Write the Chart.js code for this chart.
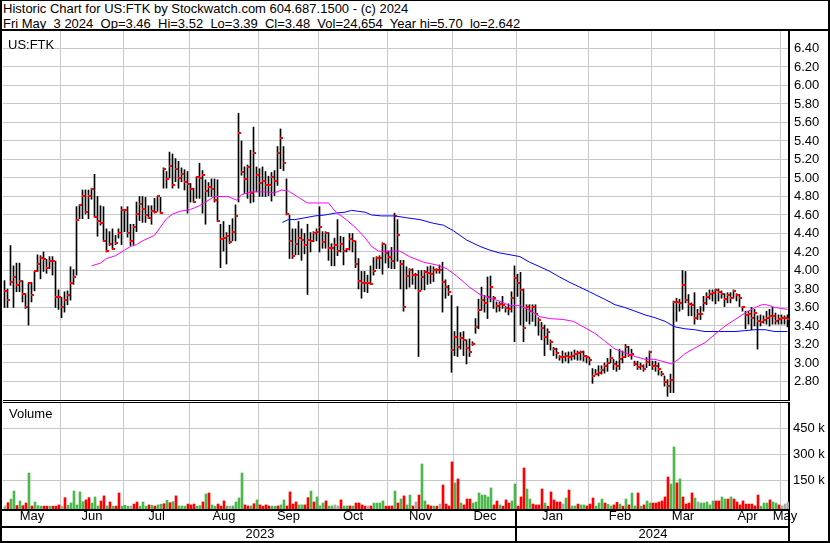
<!DOCTYPE html>
<html>
<head>
<meta charset="utf-8">
<title>Historic Chart for US:FTK</title>
<script src="https://cdn.jsdelivr.net/npm/chart.js@4.4.0/dist/chart.umd.min.js"></script>
<style>
  html, body { margin: 0; padding: 0; background: #fff; }
  #chart-box {
    position: relative; width: 830px; height: 543px; overflow: hidden;
    font-family: "Liberation Sans", Arial, sans-serif; font-size: 13px; color: #000;
  }
  #chart-box canvas { position: absolute; left: 0; }
  #header { position: absolute; left: 3px; top: 2px; line-height: 14.5px; white-space: pre; }
  .rule { position: absolute; left: 0; width: 830px; height: 2px; background: #000; }
  .tag { position: absolute; line-height: 15px; }
  #frame {
    position: absolute; left: 0; top: 0; width: 830px; height: 543px; box-sizing: border-box;
    border: solid #000; border-width: 1px 2px 2px 2px; pointer-events: none;
  }
</style>
</head>
<body>
<div id="chart-box">
  <div id="header">Historic Chart for US:FTK by Stockwatch.com 604.687.1500 - (c) 2024
Fri May  3 2024  Op=3.46  Hi=3.52  Lo=3.39  Cl=3.48  Vol=24,654  Year hi=5.70  lo=2.642</div>
  <div class="rule" style="top:29px"></div>
  <canvas id="priceChart" width="830" height="370" style="top:31px"></canvas>
  <canvas id="volumeChart" width="830" height="139" style="top:402px"></canvas>
  <div class="tag" style="left:8px;top:37px">US:FTK</div>
  <div class="tag" style="left:9px;top:406px">Volume</div>
  <div id="frame"></div>
</div>
<script>
// --- data (one slot per trading day) ---
const barCount = 262;
const monthNames = ["May", "Jun", "Jul", "Aug", "Sep", "Oct", "Nov", "Dec", "Jan", "Feb", "Mar", "Apr", "May"];
const monthStarts = [0, 19, 40, 62, 85, 105, 128, 150, 171, 195, 216, 237, 259];
const yearNames = ["2023", "2024"];
const yearStarts = [0, 171];

const priceTicks = [2.8, 3.0, 3.2, 3.4, 3.6, 3.8, 4.0, 4.2, 4.4, 4.6, 4.8, 5.0, 5.2, 5.4, 5.6, 5.8, 6.0, 6.2, 6.4];
const volumeTicks = [150, 300, 450];

const high = [
  3.89,3.80,4.27,4.05,4.08,4.08,3.89,3.75,3.86,3.87, 3.99,4.17,4.16,4.20,4.12,4.15,4.15,4.10,3.79,3.71,
  3.77,3.78,4.04,4.01,4.69,4.71,4.87,4.87,4.87,4.89, 5.04,4.80,4.70,4.69,4.45,4.42,4.45,4.38,4.45,4.69,
  4.65,4.69,4.50,4.50,4.74,4.80,4.80,4.79,4.70,4.70, 4.78,4.80,4.79,5.11,5.07,5.28,5.26,5.21,5.18,5.11,
  5.09,5.07,4.94,4.89,5.01,
  5.16,5.08,4.98,4.95,4.99,4.99,4.98,4.50,4.53,4.41, 4.49,4.56,4.71,5.70,5.40,5.12,5.14,5.30,5.55,5.12,
  5.10,5.12,5.07,5.02,5.06,5.08,5.34,5.53,5.34,4.99, 4.60,4.45,4.45,4.53,4.45,4.40,4.50,4.41,4.42,4.45,
  4.69,4.42,4.42,4.41,4.29,4.35,4.55,4.37,4.36,4.24, 4.40,4.40,4.32,4.13,3.99,3.99,3.95,4.05,4.14,4.15,
  4.16,4.30,4.28,4.21,
  4.25,4.62,4.55,
  4.11,4.11,4.04,4.02,4.02,3.97,4.00,4.00,4.00,4.04, 4.05,4.04,4.02,4.06,4.09,3.90,3.84,3.73,3.34,3.61,
  3.33,3.34,3.25,3.26,3.23,3.48,3.69,3.82,3.73,3.93, 3.94,3.72,3.66,3.66,3.72,3.61,3.64,3.77,4.05,3.96,
  3.98,3.80,3.63,3.63,3.63,3.63,3.49,3.44,3.41,3.37, 3.25,3.17,3.16,3.08,3.13,3.11,3.12,3.12,3.14,3.13,
  3.13,3.13,3.08,3.06,2.94,
  2.93,2.97,2.97,3.00,3.05,3.15,3.04,3.02,3.15,3.13, 3.20,3.18,3.15,3.02,3.02,3.00,2.98,3.06,3.13,3.02,
  3.02,3.00,2.91,2.86,2.82,2.88,3.67,3.70,3.69,4.00, 3.99,3.74,3.65,3.76,3.58,3.61,3.72,3.76,3.79,3.79,
  3.80,3.80,3.78,3.75,3.76,3.76,3.79,3.75,3.74,3.61, 3.56,3.56,3.60,3.58,3.51,3.52,3.51,3.56,3.58,3.60,
  3.54,3.52,3.52,3.51,3.52
];
const low = [
  3.60,3.60,3.84,3.60,3.77,3.77,3.66,3.59,3.41,3.66, 3.78,3.99,3.91,3.99,3.97,4.02,3.95,3.60,3.58,3.49,
  3.55,3.63,3.68,3.85,3.95,4.56,4.56,4.61,4.56,4.77, 4.58,4.37,4.49,4.32,4.20,4.27,4.23,4.28,4.35,4.28,
  4.42,4.36,4.27,4.28,4.42,4.54,4.52,4.52,4.56,4.50, 4.62,4.64,4.62,4.89,4.89,5.00,4.89,4.96,4.89,4.96,
  4.87,4.62,4.74,4.74,4.78,
  4.78,4.62,4.50,4.80,4.80,4.74,4.53,4.03,4.21,4.07, 4.29,4.32,4.32,4.74,5.03,4.83,4.78,4.73,4.74,4.85,
  4.80,4.80,4.80,4.81,4.75,4.81,4.92,5.10,5.08,4.60, 4.13,4.13,4.17,4.17,4.11,4.18,3.74,4.20,4.31,4.32,
  4.20,4.24,4.24,4.11,4.05,4.05,4.16,4.20,4.06,4.20, 4.22,4.20,4.03,3.80,3.70,3.77,3.76,3.85,3.95,4.02,
  4.02,3.96,4.08,4.03,
  4.02,4.02,4.10,
  3.80,3.56,3.80,3.82,3.85,3.80,3.07,3.79,3.79,3.85, 3.86,3.88,3.97,3.97,3.55,3.70,3.73,2.90,3.08,3.07,
  3.15,3.08,2.99,3.07,3.19,3.32,3.37,3.57,3.55,3.48, 3.66,3.59,3.55,3.56,3.59,3.55,3.52,3.55,3.23,3.72,
  3.41,3.23,3.45,3.42,3.45,3.40,3.30,3.25,3.08,3.20, 3.14,3.08,3.05,3.03,3.00,3.02,3.00,3.03,3.04,3.03,
  3.03,3.02,3.00,2.98,2.78,
  2.87,2.86,2.88,2.89,2.91,3.00,2.93,2.91,2.93,3.00, 3.06,3.07,3.04,2.97,2.93,2.93,2.91,2.95,2.97,2.93,
  2.91,2.87,2.86,2.75,2.64,2.68,2.68,3.45,3.56,3.58, 3.65,3.51,3.51,3.42,3.47,3.47,3.56,3.63,3.69,3.67,
  3.64,3.67,3.70,3.61,3.65,3.65,3.70,3.67,3.61,3.56, 3.37,3.42,3.36,3.40,3.15,3.40,3.43,3.42,3.40,3.42,
  3.42,3.42,3.42,3.42,3.39
];
const close = [
  3.78,3.68,3.88,3.93,3.84,3.89,3.75,3.60,3.86,3.73, 3.99,4.07,4.14,4.12,4.03,4.10,4.10,3.71,3.71,3.60,
  3.68,3.73,3.87,3.93,4.55,4.71,4.80,4.63,4.80,4.88, 4.58,4.53,4.51,4.32,4.21,4.29,4.23,4.30,4.40,4.65,
  4.65,4.41,4.32,4.47,4.61,4.72,4.66,4.60,4.57,4.64, 4.63,4.80,4.62,5.10,4.99,5.13,4.92,5.10,5.00,5.04,
  4.96,4.94,4.88,4.74,5.01,
  5.00,5.03,4.86,4.90,4.88,4.76,4.53,4.34,4.35,4.37, 4.31,4.42,4.59,5.49,5.07,4.99,5.12,4.84,5.27,5.03,
  4.95,4.97,4.92,4.92,5.01,4.97,5.27,5.43,5.16,4.61, 4.32,4.16,4.29,4.35,4.33,4.28,4.33,4.32,4.41,4.42,
  4.47,4.31,4.40,4.24,4.24,4.28,4.21,4.29,4.21,4.23, 4.34,4.32,4.07,3.89,3.87,3.87,3.86,3.85,3.99,4.14,
  4.13,4.29,4.19,4.15,
  4.10,4.59,4.38,
  4.07,3.61,3.94,4.00,3.95,3.95,3.78,3.93,3.98,3.97, 3.96,4.00,4.00,4.00,3.88,3.82,3.77,3.14,3.28,3.17,
  3.27,3.25,3.16,3.12,3.20,3.39,3.57,3.68,3.65,3.71, 3.82,3.70,3.62,3.64,3.63,3.59,3.58,3.70,3.92,3.86,
  3.79,3.38,3.61,3.56,3.60,3.53,3.46,3.38,3.28,3.34, 3.23,3.15,3.11,3.06,3.06,3.08,3.07,3.08,3.10,3.11,
  3.12,3.08,3.06,3.03,2.86,
  2.88,2.89,2.92,2.97,3.00,3.05,2.99,2.97,3.04,3.07, 3.17,3.09,3.10,2.99,2.96,2.97,2.94,3.01,3.12,2.97,
  2.97,2.94,2.88,2.79,2.75,2.82,3.66,3.66,3.65,3.84, 3.68,3.64,3.63,3.49,3.53,3.53,3.65,3.71,3.75,3.76,
  3.79,3.77,3.75,3.69,3.73,3.70,3.78,3.73,3.70,3.60, 3.52,3.53,3.49,3.54,3.45,3.44,3.47,3.49,3.51,3.51,
  3.45,3.48,3.49,3.49,3.48
];

// volume in thousands of shares; g = up day, r = down day, n = unchanged
const volumeK = [
  1,21,42,88,4,31,4,19,192,2, 25,4,1,1,1,1,1,1,8,1, 50,6,19,88,8,83,27,37,50,19,
  54,2,31,60,2,25,1,1,77,2, 6,1,1,13,25,1,25,1,8,6, 1,8,12,15,35,21,27,60,2,2,
  1,13,8,13,1,4,25,71,77,8, 1,13,1,31,1,1,2,25,48,192, 8,2,2,15,37,8,1,8,2,1,
  1,2,8,37,2,83,13,25,8,8, 8,50,88,25,54,2,19,31,2,2, 8,2,37,2,2,2,2,19,19,8,
  1,2,2,19,19,19,31,1,1,2, 88,19,42,60,8,65,
  2,25,65,244,31,8,2,1,1,13, 123,13,2,256,135,158,19,8,42,42, 19,25,77,65,65,54,106,8,31,8,
  1,37,19,31,129,1,54,221,100,42, 13,8,8,100,19,1,83,37,25,25, 13,48,94,2,2,13,8,8,2,13,
  48,2,19,42,19,12,2,8,23,13, 1,42,8,77,2,77,1,8,31,19, 19,19,25,31,54,169,129,342,135,158,
  54,13,19,77,48,25,19,19,25,8, 31,31,31,54,42,42,54,42,25,8, 31,13,13,13,2,65,1,19,19,37,
  25,19,8,2,13, 24.654
];
const volumeDir = (
  "nrggrgrrgr" + "gggrrgrrrn" + "rggggggrrg" + "ggrrgrgrrg" + "ggnrrgggrg" + "rggrgrgrgg" +
  "grrrggrgrg" + "grrrgngggg" + "rrgrgrrrrg" + "grggrrrrgg" + "rrgrgggrgg" + "nnrggrgrrr" +
  "rnrggggrrr" + "grgrgg" +
  "rnrggrrgrn" + "rrrrgrgrrr" + "gggggggrrg" + "rrrggrrrgg" + "rrrrgrrrrr" + "ngrggrggrr" +
  "rgggrggrrg" + "rgrggrgrgg" + "rrrrrrggrg" + "rrrrgngggg" + "grrggrgrrr" + "rrrrrrgggr" +
  "ggrnn" + "n"
).split("");

// moving averages, read at sample positions (slot index, price)
const fastMaAt = [29,32,34,37,40,42,44,46,50,52,54,56,58.5,62,65,67,70,74.5,77.4,79,82.4,86.8,90,92.4,94.6,98,101,104.5,108,110.2,113.5,116.8,120,122.4,124.6,128,131.8,135,139.6,144,147.4,150.7,155,158.5,161.8,165,168.5,171.8,175,178.5,181.8,186.3,189.6,193,196.8,200,203.5,206.8,210.2,213.5,216.8,220.2,222.4,224.6,226.8,230,233.5,236.8,240.2,243.5,246.8,250.2,252.4,254,256.8,261];
const fastMa = [4.05,4.08,4.13,4.16,4.22,4.26,4.28,4.32,4.38,4.47,4.56,4.61,4.64,4.66,4.70,4.74,4.80,4.80,4.76,4.82,4.85,4.85,4.84,4.87,4.86,4.79,4.73,4.73,4.73,4.64,4.56,4.47,4.36,4.26,4.21,4.21,4.21,4.15,4.09,4.06,4.02,3.94,3.82,3.74,3.70,3.67,3.62,3.62,3.57,3.50,3.48,3.47,3.45,3.39,3.32,3.24,3.15,3.11,3.07,3.04,3.04,3.01,2.99,3.04,3.10,3.16,3.22,3.31,3.40,3.47,3.54,3.60,3.63,3.63,3.60,3.58];
const slowMaAt = [92.6,94.6,96.8,100.2,103.5,106.8,110.2,113.5,115.7,117.9,120.2,122.4,125.7,130,134,138.5,143,146.3,149.6,154,158.5,161.8,165,168.5,171.8,175,178.5,181.8,185,188.5,191.8,195,196.8,200,203.5,206.8,210.2,213.5,216.8,220.2,223.5,226.8,230,233.5,236.8,240.2,243.5,246.8,250.2,253.5,256.8,261];
const slowMa = [4.52,4.55,4.55,4.57,4.59,4.60,4.62,4.63,4.65,4.64,4.63,4.60,4.59,4.59,4.57,4.55,4.51,4.49,4.43,4.33,4.26,4.22,4.19,4.17,4.15,4.09,4.04,3.99,3.93,3.87,3.82,3.77,3.74,3.69,3.63,3.60,3.56,3.52,3.49,3.45,3.39,3.37,3.36,3.34,3.34,3.34,3.34,3.35,3.36,3.36,3.34,3.34];

// --- look ---
const gridGray = "#c8c8c8";
const dirColor = { g: "#4cb84c", r: "#ff0000", n: "#a8a8a8" };
Chart.defaults.font.family = '"Liberation Sans", Arial, sans-serif';
Chart.defaults.font.size = 13;
Chart.defaults.color = "#000";

// axis ranges chosen so the gridlines fall where the picture has them
const xMin = -0.5, xMax = barCount - 0.5;
const volShift = 1 / 6; // puts the 2px volume bars on whole pixels
const priceMin = 2.60, priceMax = 6.589;
const volMin = -21.3, volMax = 601.7;

const monthBounds = monthStarts.slice(1).map(s => s - 0.5);
const monthMids = monthStarts.map((s, k) => (s - 0.5 + (monthStarts[k + 1] ?? barCount) - 0.5) / 2);
const yearMids = yearStarts.map((s, k) => (s - 0.5 + (yearStarts[k + 1] ?? barCount) - 0.5) / 2);

function fixedTicks(values) {
  return scale => { scale.ticks = values.map(v => ({ value: v })); };
}

// fixed box sizes, and no extra room for labels that hang over the ends
function sideAxis(width) {
  return s => { s.width = width; s.paddingTop = 0; s.paddingBottom = 0; };
}
function bottomAxis(height) {
  return s => { s.height = height; s.paddingLeft = 0; s.paddingRight = 0; };
}

// close mark: 3px red dash starting on the bar line and running right
function makeCloseMark() {
  const c = document.createElement("canvas");
  c.width = 5;
  c.height = 2;
  const g = c.getContext("2d");
  g.fillStyle = "#ff0000";
  g.fillRect(2, 0, 3, 2);
  return c;
}

const crispImages = {
  id: "crispImages",
  beforeDatasetsDraw(chart) { chart.ctx.imageSmoothingEnabled = false; }
};

// top edge of the volume panel, right edge and year divider through the label rows
const panelLines = {
  id: "panelLines",
  afterDraw(chart) {
    const { ctx, chartArea: area, scales } = chart;
    const sepX = Math.round(scales.x.getPixelForValue(yearStarts[1] - 0.5));
    const h = chart.height - area.bottom;
    ctx.save();
    ctx.fillStyle = "#000";
    ctx.fillRect(area.left, area.top, area.right - area.left, 1);
    ctx.fillRect(area.right - 1, area.bottom, 2, h);
    ctx.fillRect(sepX - 1, area.bottom, 2, h);
    ctx.restore();
  }
};

const baseOptions = {
  responsive: false,
  animation: false,
  events: [],
  layout: { padding: { left: 3, right: 0, top: 0, bottom: 0 }, autoPadding: false },
  plugins: { legend: { display: false }, tooltip: { enabled: false } }
};

// --- price panel ---
new Chart(document.getElementById("priceChart"), {
  type: "bar",
  data: {
    datasets: [
      {
        type: "line", order: 1,
        data: fastMaAt.map((x, k) => ({ x, y: fastMa[k] })),
        borderColor: "#ff00ff", borderWidth: 1, pointRadius: 0, tension: 0
      },
      {
        type: "line", order: 1,
        data: slowMaAt.map((x, k) => ({ x, y: slowMa[k] })),
        borderColor: "#0000ff", borderWidth: 1, pointRadius: 0, tension: 0
      },
      {
        type: "line", order: 2, showLine: false,
        data: close.map((y, i) => ({ x: i, y })),
        pointStyle: makeCloseMark(), pointRadius: 2
      },
      {
        type: "bar", order: 3,
        data: high.map((h, i) => ({ x: i, y: [low[i], h] })),
        backgroundColor: "#000", borderWidth: 0, barThickness: 1
      }
    ]
  },
  options: {
    ...baseOptions,
    scales: {
      x: {
        type: "linear", min: xMin, max: xMax, offset: false,
        grid: { color: gridGray, drawTicks: false, offset: false },
        border: { color: "#000", width: 1 },
        ticks: { display: false },
        afterBuildTicks: fixedTicks(monthBounds),
        afterFit: bottomAxis(1)
      },
      y: {
        position: "right", min: priceMin, max: priceMax,
        grid: { color: gridGray, drawTicks: false },
        border: { color: "#000", width: 2 },
        ticks: { padding: 5, callback: v => v.toFixed(2) },
        afterBuildTicks: fixedTicks(priceTicks),
        afterFit: sideAxis(41)
      }
    }
  },
  plugins: [crispImages]
});

// --- volume panel with month and year rows ---
new Chart(document.getElementById("volumeChart"), {
  type: "bar",
  data: {
    datasets: [{
      data: volumeK.map((v, i) => ({ x: i, y: v })),
      backgroundColor: volumeDir.map(d => dirColor[d]),
      borderWidth: 0, barThickness: 2, base: volMin
    }]
  },
  options: {
    ...baseOptions,
    scales: {
      x: {
        type: "linear", min: xMin - volShift, max: xMax - volShift, offset: false, weight: 0,
        grid: { color: gridGray, drawTicks: false, offset: false },
        border: { color: "#000", width: 2, z: 1 },
        ticks: { display: false },
        afterBuildTicks: fixedTicks(monthBounds),
        afterFit: bottomAxis(0)
      },
      months: {
        axis: "x", type: "linear", position: "bottom", weight: 1,
        min: xMin - volShift, max: xMax - volShift, offset: false,
        grid: { display: false, drawTicks: false },
        border: { display: false },
        ticks: {
          autoSkip: false, maxRotation: 0, minRotation: 0, padding: 0,
          font: { size: 13, lineHeight: 1 },
          callback: (v, i) => monthNames[i]
        },
        afterBuildTicks: fixedTicks(monthMids),
        afterFit: bottomAxis(17)
      },
      years: {
        axis: "x", type: "linear", position: "bottom", weight: 2,
        min: xMin - volShift, max: xMax - volShift, offset: false,
        grid: { display: false, drawTicks: false },
        border: { color: "#000", width: 2 },
        ticks: {
          autoSkip: false, maxRotation: 0, minRotation: 0, padding: 1,
          font: { size: 13, lineHeight: 1 },
          callback: (v, i) => yearNames[i]
        },
        afterBuildTicks: fixedTicks(yearMids),
        afterFit: bottomAxis(14)
      },
      y: {
        position: "right", min: volMin, max: volMax,
        grid: { color: gridGray, drawTicks: false },
        border: { color: "#000", width: 2 },
        ticks: { padding: 4, callback: v => v + " k" },
        afterBuildTicks: fixedTicks(volumeTicks),
        afterFit: sideAxis(41)
      }
    }
  },
  plugins: [panelLines]
});
</script>
</body>
</html>
